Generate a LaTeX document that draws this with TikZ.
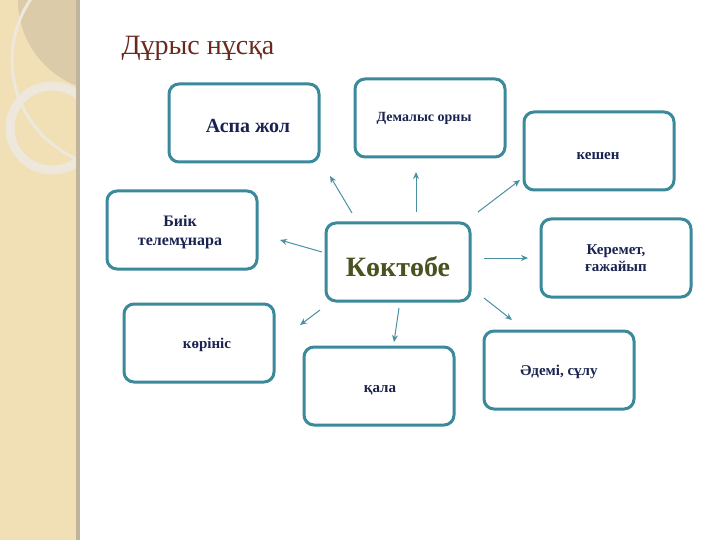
\documentclass[tikz,border=0pt]{standalone}
\usepackage{fontspec}
\setmainfont{Liberation Serif}
\usetikzlibrary{arrows.meta}
\begin{document}
\begin{tikzpicture}[x=1pt,y=-1pt,
 box/.style={draw=boxc,line width=3pt,rounded corners=10pt,fill=white,minimum width=150pt,minimum height=78pt,align=center,inner sep=0pt},
 lbl/.style={font=\bfseries\fontsize{15}{17}\selectfont,text=navy,align=center},
 arr/.style={draw=arrc,line width=1pt,-{Stealth[length=7pt,width=6pt]}}]
\definecolor{boxc}{HTML}{3B8A9B}
\definecolor{arrc}{HTML}{4A90A2}
\definecolor{navy}{HTML}{1A2350}
\definecolor{olive}{HTML}{4A5220}
\definecolor{beige}{HTML}{F1DFB6}
\definecolor{tan}{HTML}{DCCBA8}
\definecolor{ring}{HTML}{EEE8DC}
\definecolor{brick}{HTML}{6B2A1E}
\useasboundingbox (0,0) rectangle (720,540);
\fill[white] (0,0) rectangle (720,540);
\begin{scope}
\clip (0,0) rectangle (78,540);
\fill[beige] (0,0) rectangle (78,540);
\fill[tan] (110,0) circle (92);
\draw[ring,line width=3pt] (120,60) circle (108);
\draw[ring,line width=9pt] (52,128) circle (42);
\end{scope}
\fill[tan!70!gray] (76,0) rectangle (80,540);
\node[anchor=west,text=brick,font=\fontsize{28}{30}\selectfont] (title) at (118,48) {Дұрыс нұсқа};
\node[box] (aspa) at (244,123) {};
\node[lbl,font=\bfseries\fontsize{20}{22}\selectfont] (aspat) at (248,126) {Аспа жол};
\node[box] (dem) at (430,118) {};
\node[lbl,font=\bfseries\fontsize{14}{16}\selectfont] (demt) at (424,118) {Демалыс орны};
\node[box] (kes) at (599,151) {};
\node[lbl] (kest) at (598,156) {кешен};
\node[box] (biik) at (182,230) {};
\node[lbl,font=\bfseries\fontsize{16}{19}\selectfont] (biikt) at (180,232) {Биік\\телемұнара};
\node[box,minimum width=144pt] (kok) at (398,262) {};
\node[font=\bfseries\fontsize{28}{30}\selectfont,text=olive] (kokt) at (398,267) {Көктөбе};
\node[box] (ker) at (616,258) {};
\node[lbl] (kert) at (616,258) {Керемет,\\ғажайып};
\node[box] (kor) at (199,343) {};
\node[lbl] (kort) at (207,345) {көрініс};
\node[box] (kala) at (379,386) {};
\node[lbl] (kalat) at (380,390) {қала};
\node[box] (ade) at (559,370) {};
\node[lbl] (adet) at (559,372) {Әдемі, сұлу};
\coordinate (a1) at (352,213); \coordinate (b1) at (330,176);
\coordinate (a2) at (416,212); \coordinate (b2) at (416,172);
\coordinate (a3) at (478,212); \coordinate (b3) at (520,180);
\coordinate (a4) at (484,258); \coordinate (b4) at (528,258);
\coordinate (a5) at (484,298); \coordinate (b5) at (512,320);
\coordinate (a6) at (399,308); \coordinate (b6) at (394,342);
\coordinate (a7) at (320,310); \coordinate (b7) at (300,325);
\coordinate (a8) at (322,252); \coordinate (b8) at (280,240);
\foreach \i in {1,...,8} \draw[arr] (a\i) -- (b\i);
\end{tikzpicture}
\end{document}
